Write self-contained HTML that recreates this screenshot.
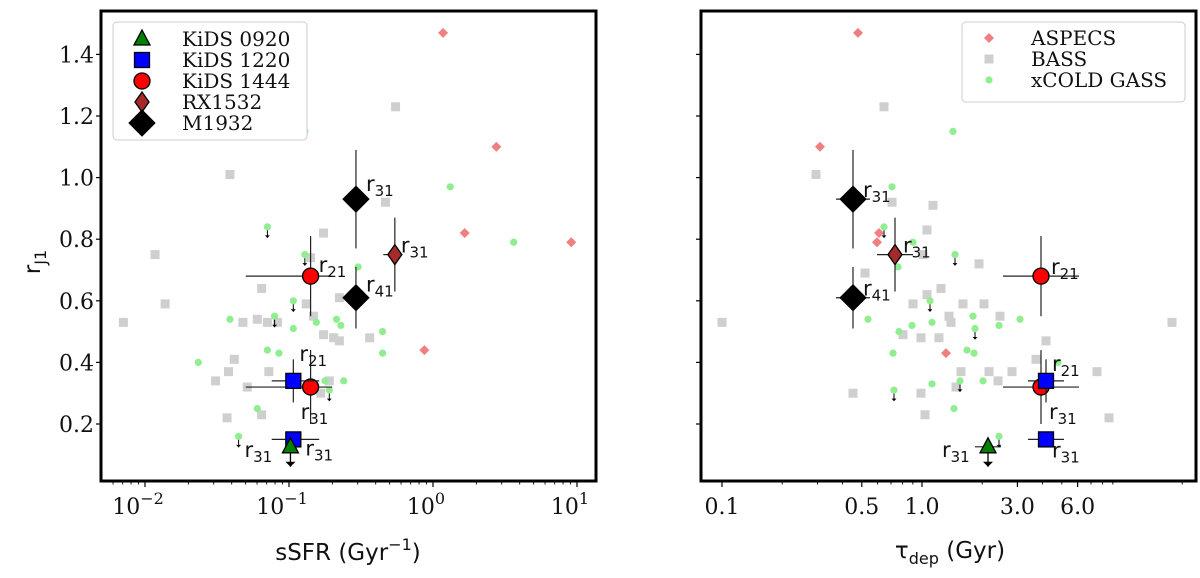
<!DOCTYPE html>
<html><head><meta charset="utf-8"><style>
body{margin:0;background:#fff}
svg{display:block}
.tk{font-family:"DejaVu Serif","Liberation Serif",serif;font-size:22px;fill:#111}
.lg{font-family:"DejaVu Serif","Liberation Serif",serif;font-size:20px;fill:#111}
.ax{font-family:"DejaVu Sans","Liberation Sans",sans-serif;font-size:23px;fill:#111}
.rl{font-family:"DejaVu Sans","Liberation Sans",sans-serif;font-size:21px;fill:#111}
</style></head><body>
<svg id="chart" width="1200" height="578" viewBox="0 0 1200 578"></svg>
<script>
// ---------- data ----------
const yTicks=[0.2,0.4,0.6,0.8,1.0,1.2,1.4];
const leftTickExp=[-2,-1,0,1];
const rightTickVals=[0.1,0.5,1.0,3.0,6.0];
const rightTickLabels=["0.1","0.5","1.0","3.0","6.0"];
// left panel: log10 sSFR, r
const L_bass_x=[-1.41,-0.76,-1.93,-1.19,-1.86,-0.65,-0.88,-2.15,-1.32,-1.22,-1.15,-1.08,-0.83,-0.76,-0.69,-0.65,-0.44,-1.38,-1.42,-1.51,-1.29,-1.14,-0.72,-0.78,-1.19,-1.43,-0.33,-0.85,-0.26];
const L_bass_y=[1.01,0.82,0.75,0.64,0.59,0.61,0.59,0.53,0.53,0.54,0.53,0.53,0.55,0.49,0.48,0.47,0.48,0.41,0.37,0.34,0.32,0.37,0.34,0.30,0.23,0.22,0.92,0.74,1.23];
const L_xcg_x=[-1.15,-0.89,-0.97,-1.41,-1.10,-0.97,-0.81,-0.67,-0.64,-0.52,-0.35,-0.35,-1.15,-1.07,-1.63,-0.75,-0.72,-0.62,-1.22,-1.35,-0.89,0.12,0.56];
const L_xcg_y=[0.84,0.75,0.60,0.54,0.55,0.51,0.53,0.54,0.52,0.71,0.50,0.43,0.44,0.43,0.40,0.34,0.31,0.34,0.25,0.16,1.15,0.97,0.79];
const L_xcg_lim=[1,1,1,0,1,0,0,0,0,0,0,0,0,0,0,0,1,0,0,1,0,0,0];
const L_asp_x=[0.07,0.44,0.22,0.96,-0.06];
const L_asp_y=[1.47,1.10,0.82,0.79,0.44];
// right panel: log10 tau_dep, r
const R_bass_x=[-0.53,-0.15,0.055,0.025,0.005,0.285,-0.285,0.095,0.025,-0.045,0.205,0.31,0.135,0.145,0.39,-0.095,-0.005,0.085,0.62,0.57,0.195,0.335,0.45,0.38,0.875,0.17,-0.345,-0.005,0.015,0.935,-0.19,-1.0,1.25];
const R_bass_y=[1.01,0.92,0.91,0.83,0.75,0.72,0.69,0.64,0.62,0.59,0.59,0.59,0.55,0.53,0.55,0.49,0.48,0.48,0.47,0.41,0.37,0.37,0.37,0.34,0.37,0.32,0.30,0.30,0.23,0.22,1.23,0.53,0.53];
const R_xcg_x=[0.155,-0.15,-0.19,-0.045,0.165,-0.12,0.04,-0.27,-0.05,-0.115,0.05,0.255,0.265,0.385,0.49,-0.145,0.225,0.26,0.68,0.05,0.19,0.305,-0.14,0.16,0.385];
const R_xcg_y=[1.15,0.97,0.84,0.79,0.75,0.71,0.60,0.54,0.52,0.50,0.53,0.55,0.51,0.52,0.54,0.43,0.44,0.43,0.40,0.33,0.34,0.34,0.31,0.25,0.16];
const R_xcg_lim=[0,0,1,0,1,0,1,0,0,0,0,0,1,0,0,0,0,0,0,0,1,0,1,0,1];
const R_asp_x=[-0.215,-0.225,0.12,-0.51,-0.32];
const R_asp_y=[0.82,0.79,0.43,1.10,1.47];
// main sources
const srcName=["M1932 r31","M1932 r41","RX1532 r31","KiDS1444 r21","KiDS1444 r31","KiDS1220 r21","KiDS1220 r31","KiDS0920 r31"];
const srcKind=["M","M","RX","K1444","K1444","K1220","K1220","K0920"];
const srcLabel=["31","41","31","21","31","21","31","31"];
const srcR=[0.93,0.61,0.75,0.68,0.32,0.34,0.15,0.126];
const srcRerr=[0.16,0.10,0.12,0.13,0.12,0.07,0,0];
const srcLim=[0,0,0,0,0,0,0,1];
const srcSSFR=[-0.535,-0.535,-0.265,-0.85,-0.85,-0.97,-0.97,-0.99];
const srcSSFRlo=[0,0,0.08,0.45,0.45,0.15,0.15,0];
const srcSSFRhi=[0,0,0,0.14,0.15,0.18,0.18,0];
const srcTau=[-0.345,-0.345,-0.135,0.595,0.595,0.62,0.62,0.33];
const srcTauErr=[0.085,0.085,0.09,0.19,0.19,0.09,0.09,0.065];
// ---------- layout ----------
const NS="http://www.w3.org/2000/svg";
const svg=document.getElementById('chart');
function el(t,a,p){const e=document.createElementNS(NS,t);for(const k in a)e.setAttribute(k,a[k]);(p||svg).appendChild(e);return e;}
const yTop=11,bot=481;
const yS=v=>424-(v-0.2)*308;
const xL=l=>433+144*l;
const xR=l=>922+200*l;
const L={x0:101,x1:596},R={x0:701,x1:1196};
const labOffL=[[10,-8],[10,-6],[6,-2],[8,-4],[-10,32],[6,-20],[12,16],[-46,10]];
const labOffR=[[10,-2],[10,-2],[8,-2],[10,-2],[8,32],[6,-10],[6,18],[-46,10]];

function marker(kind,x,y,g){
  let e;
  if(kind==="M"){e=el('polygon',{points:`${x},${y-13} ${x+13},${y} ${x},${y+13} ${x-13},${y}`,fill:'#000',stroke:'#000'},g);}
  else if(kind==="RX"){e=el('polygon',{points:`${x},${y-10} ${x+7},${y} ${x},${y+10} ${x-7},${y}`,fill:'#a52a2a',stroke:'#000','stroke-width':1.3},g);}
  else if(kind==="K1444"){e=el('circle',{cx:x,cy:y,r:8,fill:'#ff0000',stroke:'#000','stroke-width':1.3},g);}
  else if(kind==="K1220"){e=el('rect',{x:x-7.5,y:y-7.5,width:15,height:15,fill:'#0000ff',stroke:'#000','stroke-width':1.3},g);}
  else {e=el('polygon',{points:`${x},${y-9} ${x+8},${y+6} ${x-8},${y+6}`,fill:'#008000',stroke:'#000','stroke-width':1.3},g);}
  return e;
}
function arrow(x,y,len,g,w){
  el('line',{x1:x,y1:y,x2:x,y2:y+len,stroke:'#000','stroke-width':w},g);
  const s=w>1.2?5:2.5;
  el('polygon',{points:`${x-s},${y+len-s} ${x+s},${y+len-s} ${x},${y+len}`,fill:'#000'},g);
}
function panel(P,xf,bx,by,gx,gy,glim,ax,ay,srcX,srcXlo,srcXhi,labOff,name){
  const g=el('g',{});
  
  
  const clip=el('clipPath',{id:'c'+name},g);
  el('rect',{x:P.x0,y:yTop,width:P.x1-P.x0,height:bot-yTop},clip);
  const pg=el('g',{'clip-path':`url(#c${name})`},g);
  for(let i=0;i<bx.length;i++){const r=el('rect',{x:xf(bx[i])-4.5,y:yS(by[i])-4.5,width:9,height:9,fill:'#cfcfcf'},pg);
    
    }
  for(let i=0;i<gx.length;i++){const x=xf(gx[i]),y=yS(gy[i]);
    if(glim[i])arrow(x,y,11,pg,1);
    const c=el('circle',{cx:x,cy:y,r:3.6,fill:'#90ee90'},pg);
    
    }
  for(let i=0;i<ax.length;i++){const x=xf(ax[i]),y=yS(ay[i]);
    const d=el('polygon',{points:`${x},${y-5} ${x+5},${y} ${x},${y+5} ${x-5},${y}`,fill:'#f08080'},pg);
    
    }
  for(let i=0;i<srcR.length;i++){
    const x=xf(srcX[i]),y=yS(srcR[i]);
    const sg=el('g',{},pg);
    
    
    if(srcRerr[i]>0)el('line',{x1:x,y1:yS(srcR[i]+srcRerr[i]),x2:x,y2:yS(srcR[i]-srcRerr[i]),stroke:'#222','stroke-width':1.2},sg);
    const lo=srcXlo[i],hi=srcXhi[i];
    if(lo>0||hi>0)el('line',{x1:xf(srcX[i]-lo),y1:y,x2:xf(srcX[i]+hi),y2:y,stroke:'#222','stroke-width':1.2},sg);
    if(srcLim[i])arrow(x,y,20,sg,1.3);
    marker(srcKind[i],x,y,sg);
    const t=el('text',{x:x+labOff[i][0],y:y+labOff[i][1],class:'rl'},sg);
    t.innerHTML=`r<tspan dy="5" font-size="15">${srcLabel[i]}</tspan>`;
  }
  const fr=el('rect',{x:P.x0,y:yTop,width:P.x1-P.x0,height:bot-yTop,fill:'none',stroke:'#000','stroke-width':3},g);
  
  
  yTicks.forEach(v=>{el('line',{x1:P.x0-5,y1:yS(v),x2:P.x0,y2:yS(v),stroke:'#000','stroke-width':1.2},g);});
  return g;
}
// left panel
const gl=panel(L,xL,L_bass_x,L_bass_y,L_xcg_x,L_xcg_y,L_xcg_lim,L_asp_x,L_asp_y,srcSSFR,srcSSFRlo,srcSSFRhi,labOffL,'left-panel');
yTicks.forEach(v=>{const t=el('text',{x:94,y:yS(v)+8,class:'tk','text-anchor':'end'},gl);t.textContent=v.toFixed(1);
  
  });
leftTickExp.forEach(e=>{const x=xL(e);
  el('line',{x1:x,y1:bot,x2:x,y2:bot+6,stroke:'#000','stroke-width':1.2},gl);
  for(let m=2;m<10;m++){const xm=xL(e+Math.log10(m));if(xm<L.x1&&xm>L.x0)el('line',{x1:xm,y1:bot,x2:xm,y2:bot+3.5,stroke:'#000','stroke-width':0.9},gl);}
  const t=el('text',{x:x-7,y:bot+33,class:'tk','text-anchor':'middle'},gl);
  t.innerHTML=`10<tspan dy="-10" font-size="16">${e<0?'−'+(-e):e}</tspan>`;
  
  });
for(let m=6;m<10;m++){const xm=xL(-3+Math.log10(m));if(xm>L.x0)el('line',{x1:xm,y1:bot,x2:xm,y2:bot+3.5,stroke:'#000','stroke-width':0.9},gl);}
// right panel
const gr=panel(R,xR,R_bass_x,R_bass_y,R_xcg_x,R_xcg_y,R_xcg_lim,R_asp_x,R_asp_y,srcTau,srcTauErr,srcTauErr,labOffR,'right-panel');
rightTickVals.forEach((v,i)=>{const x=xR(Math.log10(v));
  el('line',{x1:x,y1:bot,x2:x,y2:bot+6,stroke:'#000','stroke-width':1.2},gr);
  const t=el('text',{x:x,y:bot+33,class:'tk','text-anchor':'middle'},gr);t.textContent=rightTickLabels[i];
  
  });
[0.2,0.3,0.4,0.6,0.7,0.8,0.9,2,4,5,7,8,9,20].forEach(v=>{const x=xR(Math.log10(v));if(x<R.x1)el('line',{x1:x,y1:bot,x2:x,y2:bot+3.5,stroke:'#000','stroke-width':0.9},gr);});
// axis titles
let tt0=el('text',{x:348,y:560,class:'ax','text-anchor':'middle'});tt0.innerHTML='sSFR (Gyr<tspan dy="-10" font-size="16">−1</tspan><tspan dy="10">)</tspan>';


let tt1=el('text',{x:950,y:558,class:'ax','text-anchor':'middle'});tt1.innerHTML='τ<tspan dy="6" font-size="16">dep</tspan><tspan dy="-6"> (Gyr)</tspan>';


let tt2=el('text',{x:0,y:0,class:'ax','transform':'translate(40,262) rotate(-90)','text-anchor':'middle'});tt2.innerHTML='r<tspan dy="6" font-size="16">J1</tspan>';


// legends
const lg1=el('g',{});


el('rect',{x:113,y:22,width:194,height:118,rx:4,fill:'#fff',stroke:'#ccc','stroke-width':1},lg1);
const legNames=["KiDS 0920","KiDS 1220","KiDS 1444","RX1532","M1932"];
const legKinds=["K0920","K1220","K1444","RX","M"];
legNames.forEach((n,i)=>{const y=39+i*21;const g=el('g',{},lg1);
  
  
  marker(legKinds[i],142,y,g);const tx=el('text',{x:182,y:y+7,class:'lg'},g);tx.textContent=n;});
const lg2=el('g',{});


el('rect',{x:962,y:22,width:223,height:80,rx:4,fill:'#fff',stroke:'#ccc','stroke-width':1},lg2);
[["ASPECS","asp"],["BASS","bass"],["xCOLD GASS","xcg"]].forEach((d,i)=>{const y=38+i*21;const g=el('g',{},lg2);
  
  
  const x=989;
  if(d[1]==="asp")el('polygon',{points:`${x},${y-5} ${x+5},${y} ${x},${y+5} ${x-5},${y}`,fill:'#f08080'},g);
  else if(d[1]==="bass")el('rect',{x:x-4.5,y:y-4.5,width:9,height:9,fill:'#cfcfcf'},g);
  else el('circle',{cx:x,cy:y,r:3.6,fill:'#90ee90'},g);
  const tx=el('text',{x:1031,y:y+7,class:'lg'},g);tx.textContent=d[0];});
</script>
</body></html>
